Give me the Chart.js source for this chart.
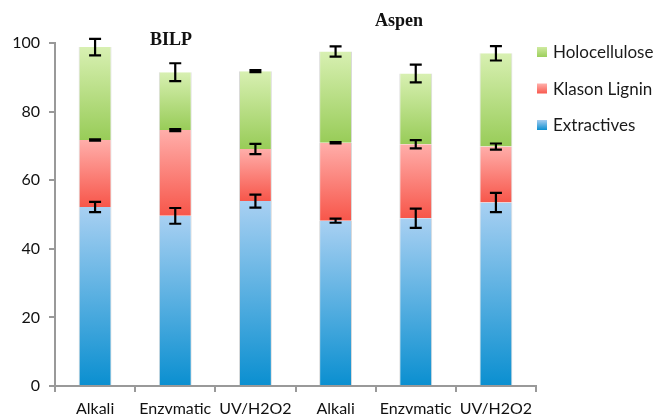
<!DOCTYPE html>
<html>
<head>
<meta charset="utf-8">
<script src="https://cdn.jsdelivr.net/npm/chart.js@4"></script>
<style>
  html, body { margin: 0; padding: 0; background: #fff; overflow: hidden; }
</style>
</head>
<body>
<canvas id="chart" width="655" height="424"></canvas>
<script>
const categories = ['Alkali', 'Enzymatic', 'UV/H2O2', 'Alkali', 'Enzymatic', 'UV/H2O2'];
const extractives = [52.2, 49.6, 53.9, 48.2, 48.9, 53.5];
const klasonLignin = [19.5, 25.0, 15.2, 22.7, 21.6, 16.3];
const holocellulose = [27.1, 16.9, 22.7, 26.6, 20.6, 27.2];
const extractivesErr = [1.5, 2.3, 1.9, 0.6, 2.8, 2.8];
const klasonErr = [0.2, 0.3, 1.5, 0.2, 1.2, 0.9];
const holoErr = [2.4, 2.6, 0.3, 1.5, 2.6, 2.1];
const yTicks = [0, 20, 40, 60, 80, 100];
const groupTitles = ['BILP', 'Aspen'];

const seriesData = [extractives, klasonLignin, holocellulose];
const seriesErr = [extractivesErr, klasonErr, holoErr];

// gradient per bar segment, light at top, strong at bottom
function segmentGradient(light, dark) {
    return function(c) {
        const chart = c.chart;
        const ys = chart.scales.y;
        if (c.type !== 'data' || !ys) return dark;
        let base = 0;
        for (let k = 0; k < c.datasetIndex; k++) base += chart.data.datasets[k].data[c.dataIndex];
        const v = chart.data.datasets[c.datasetIndex].data[c.dataIndex];
        const y0 = ys.getPixelForValue(base + v);
        const y1 = ys.getPixelForValue(base);
        if (!isFinite(y0) || !isFinite(y1) || y0 === y1) return dark;
        const g = chart.ctx.createLinearGradient(0, y0, 0, y1);
        g.addColorStop(0, light);
        g.addColorStop(1, dark);
        return g;
    };
}

const errorBars = {
    id: 'errorBars',
    afterDatasetsDraw(chart) {
        const ctx = chart.ctx;
        const ys = chart.scales.y;
        ctx.save();
        ctx.strokeStyle = '#000';
        ctx.lineWidth = 2.2;
        chart.data.datasets.forEach((ds, i) => {
            const meta = chart.getDatasetMeta(i);
            meta.data.forEach((bar, j) => {
                let cum = 0;
                for (let k = 0; k <= i; k++) cum += seriesData[k][j];
                const e = seriesErr[i][j];
                const yt = ys.getPixelForValue(cum + e);
                const yb = ys.getPixelForValue(cum - e);
                ctx.beginPath();
                ctx.moveTo(bar.x, yt); ctx.lineTo(bar.x, yb);
                ctx.moveTo(bar.x - 6, yt); ctx.lineTo(bar.x + 6, yt);
                ctx.moveTo(bar.x - 6, yb); ctx.lineTo(bar.x + 6, yb);
                ctx.stroke();
            });
        });
        ctx.restore();
    }
};

const decorations = {
    id: 'decorations',
    afterDraw(chart) {
        const ctx = chart.ctx;
        ctx.save();
        ctx.fillStyle = '#111';
        ctx.font = 'bold 18px "Liberation Serif"';
        ctx.textAlign = 'center';
        ctx.textBaseline = 'middle';
        ctx.fillText(groupTitles[0], 171, 40);
        ctx.fillText(groupTitles[1], 399, 21);

        // legend, top entry is the top series
        const names = ['Holocellulose', 'Klason Lignin', 'Extractives'];
        const boxCols = [['#cfeaa0', '#9ccf5c'], ['#ffb0ab', '#f8594e'], ['#a6cdf0', '#0b8fd0']];
        ctx.font = '17px Lato';
        ctx.textAlign = 'left';
        names.forEach((n, i) => {
            const cy = 52 + i * 36.5;
            const g = ctx.createLinearGradient(0, cy - 5, 0, cy + 5);
            g.addColorStop(0, boxCols[i][0]);
            g.addColorStop(1, boxCols[i][1]);
            ctx.fillStyle = g;
            ctx.fillRect(537, cy - 5, 10, 10);
            ctx.fillStyle = '#1a1a1a';
            ctx.fillText(n, 553, cy + 1);
        });
        ctx.restore();
    }
};

new Chart(document.getElementById('chart').getContext('2d'), {
    type: 'bar',
    data: {
        labels: categories,
        datasets: [{
            label: 'Extractives',
            data: extractives,
            backgroundColor: segmentGradient('#a8d0f2', '#0a8fd0')
        }, {
            label: 'Klason Lignin',
            data: klasonLignin,
            backgroundColor: segmentGradient('#ffaeaa', '#f7564a')
        }, {
            label: 'Holocellulose',
            data: holocellulose,
            backgroundColor: segmentGradient('#d8f0b2', '#98cc58')
        }]
    },
    options: {
        responsive: false,
        animation: false,
        layout: { padding: { top: 43, right: 119, left: 0, bottom: 0 } },
        datasets: {
            bar: {
                categoryPercentage: 1,
                barPercentage: 0.41,
                borderColor: 'rgba(150,150,150,0.35)',
                borderWidth: { left: 1, right: 1, top: 0, bottom: 0 },
                borderSkipped: false
            }
        },
        plugins: {
            legend: { display: false },
            tooltip: { enabled: false }
        },
        scales: {
            x: {
                stacked: true,
                afterFit: s => { s.height = 38; },
                grid: { drawOnChartArea: false, offset: true, tickLength: 6, color: '#999', lineWidth: 2 },
                border: { color: '#999', width: 2 },
                ticks: { color: '#111', padding: 7, font: { family: 'Lato', size: 16 }, maxRotation: 0, autoSkip: false }
            },
            y: {
                stacked: true,
                min: 0,
                max: 100,
                afterFit: s => { s.width = 55; },
                afterBuildTicks: s => { s.ticks = yTicks.map(v => ({ value: v })); },
                grid: { drawOnChartArea: false, tickLength: 6, color: '#999', lineWidth: 2 },
                border: { color: '#999', width: 2 },
                ticks: { color: '#111', padding: 9, font: { family: 'Lato', size: 16 } }
            }
        }
    },
    plugins: [errorBars, decorations]
});
</script>
</body>
</html>
